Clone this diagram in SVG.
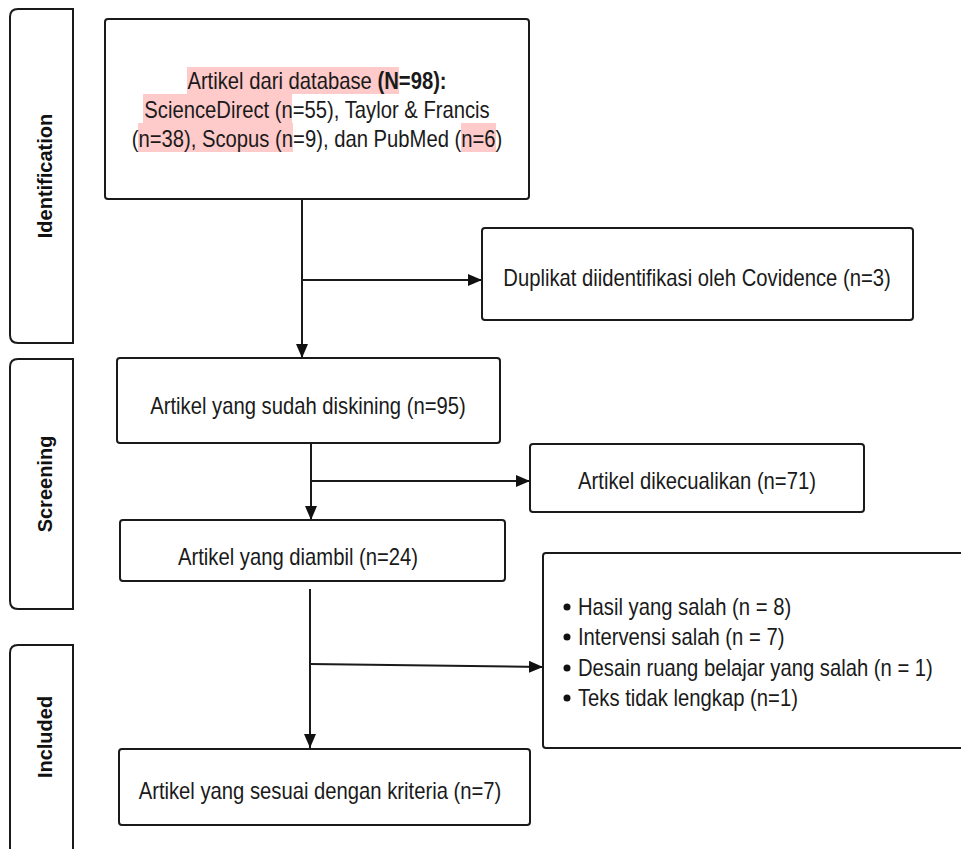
<svg xmlns="http://www.w3.org/2000/svg" width="961" height="849" viewBox="0 0 961 849">
<defs>
<style>
.box{fill:#fff;stroke:#1a1a1a;stroke-width:2}
.side{fill:#fff;stroke:#1a1a1a;stroke-width:2}
.t{font-family:"Liberation Sans",Arial,sans-serif;font-size:23px;fill:#1a1a1a;text-anchor:middle}
.tl{font-family:"Liberation Sans",Arial,sans-serif;font-size:23px;fill:#1a1a1a}
.lab{font-family:"Liberation Sans",Arial,sans-serif;font-size:20px;font-weight:bold;fill:#111;text-anchor:middle}
.hl{fill:#fecaca}
.con{fill:none;stroke:#1a1a1a;stroke-width:2}
</style>
<marker id="arr" markerWidth="14" markerHeight="12" refX="14" refY="6" orient="auto" markerUnits="userSpaceOnUse">
<path d="M0,0 L14,6 L0,12 Z" fill="#111"/>
</marker>
</defs>
<rect width="961" height="849" fill="#fff"/>

<g id="phase-identification">
<path class="side" d="M73,9 H18 Q10,9 10,17 V335 Q10,343 18,343 H73 Z"/>
<text class="lab" transform="translate(52,176) rotate(-90)">Identification</text>
</g>
<g id="phase-screening">
<path class="side" d="M73,359 H18 Q10,359 10,367 V601 Q10,609 18,609 H73 Z"/>
<text class="lab" transform="translate(52,484) rotate(-90)">Screening</text>
</g>
<g id="phase-included">
<path class="side" d="M73,645 H18 Q10,645 10,653 V849 Q10,857 18,857 H73 Z"/>
<text class="lab" transform="translate(52,737) rotate(-90)">Included</text>
</g>

<g id="connectors">
<line class="con" x1="302" y1="199" x2="302" y2="358" marker-end="url(#arr)"/>
<line class="con" x1="302" y1="280" x2="482" y2="280" marker-end="url(#arr)"/>
<line class="con" x1="311" y1="443" x2="311" y2="520" marker-end="url(#arr)"/>
<line class="con" x1="311" y1="481" x2="530" y2="481" marker-end="url(#arr)"/>
<line class="con" x1="310" y1="589" x2="310" y2="748" marker-end="url(#arr)"/>
<line class="con" x1="310" y1="664" x2="543" y2="667" marker-end="url(#arr)"/>
</g>

<g id="node-database">
<rect class="box" x="105" y="19" width="424" height="180" rx="3"/>
<rect class="hl" x="187" y="67" width="212" height="27"/>
<rect class="hl" x="143" y="94" width="149" height="29"/>
<rect class="hl" x="138" y="123" width="155" height="29"/>
<rect class="hl" x="461" y="123" width="35" height="29"/>
<text class="t" transform="translate(317,89) scale(0.88,1)">Artikel dari database <tspan font-weight="bold">(N=98):</tspan></text>
<text class="t" transform="translate(317,118) scale(0.88,1)">ScienceDirect (n=55), Taylor &amp; Francis</text>
<text class="t" transform="translate(317,147) scale(0.88,1)">(n=38), Scopus (n=9), dan PubMed (n=6)</text>
</g>

<g id="node-duplikat">
<rect class="box" x="482" y="228" width="431" height="92" rx="3"/>
<text class="t" transform="translate(697,286) scale(0.88,1)">Duplikat diidentifikasi oleh Covidence (n=3)</text>
</g>

<g id="node-diskining">
<rect class="box" x="117" y="358" width="383" height="85" rx="3"/>
<text class="t" transform="translate(308,414) scale(0.88,1)">Artikel yang sudah diskining (n=95)</text>
</g>

<g id="node-dikecualikan">
<rect class="box" x="530" y="444" width="334" height="68" rx="3"/>
<text class="t" transform="translate(697,489) scale(0.88,1)">Artikel dikecualikan (n=71)</text>
</g>

<g id="node-diambil">
<rect class="box" x="120" y="520" width="385" height="61" rx="3"/>
<text class="t" transform="translate(298,565) scale(0.88,1)">Artikel yang diambil (n=24)</text>
</g>

<g id="node-alasan">
<rect class="box" x="543" y="553" width="430" height="195" rx="3"/>
<circle cx="567" cy="607" r="3.5" fill="#111"/>
<circle cx="567" cy="637" r="3.5" fill="#111"/>
<circle cx="567" cy="668" r="3.5" fill="#111"/>
<circle cx="567" cy="698" r="3.5" fill="#111"/>
<text class="tl" transform="translate(578,615) scale(0.88,1)">Hasil yang salah (n = 8)</text>
<text class="tl" transform="translate(578,645) scale(0.88,1)">Intervensi salah (n = 7)</text>
<text class="tl" transform="translate(578,676) scale(0.88,1)">Desain ruang belajar yang salah (n = 1)</text>
<text class="tl" transform="translate(578,706) scale(0.88,1)">Teks tidak lengkap (n=1)</text>
</g>

<g id="node-sesuai">
<rect class="box" x="119" y="749" width="411" height="76" rx="3"/>
<text class="t" transform="translate(320,799) scale(0.88,1)">Artikel yang sesuai dengan kriteria (n=7)</text>
</g>
</svg>
